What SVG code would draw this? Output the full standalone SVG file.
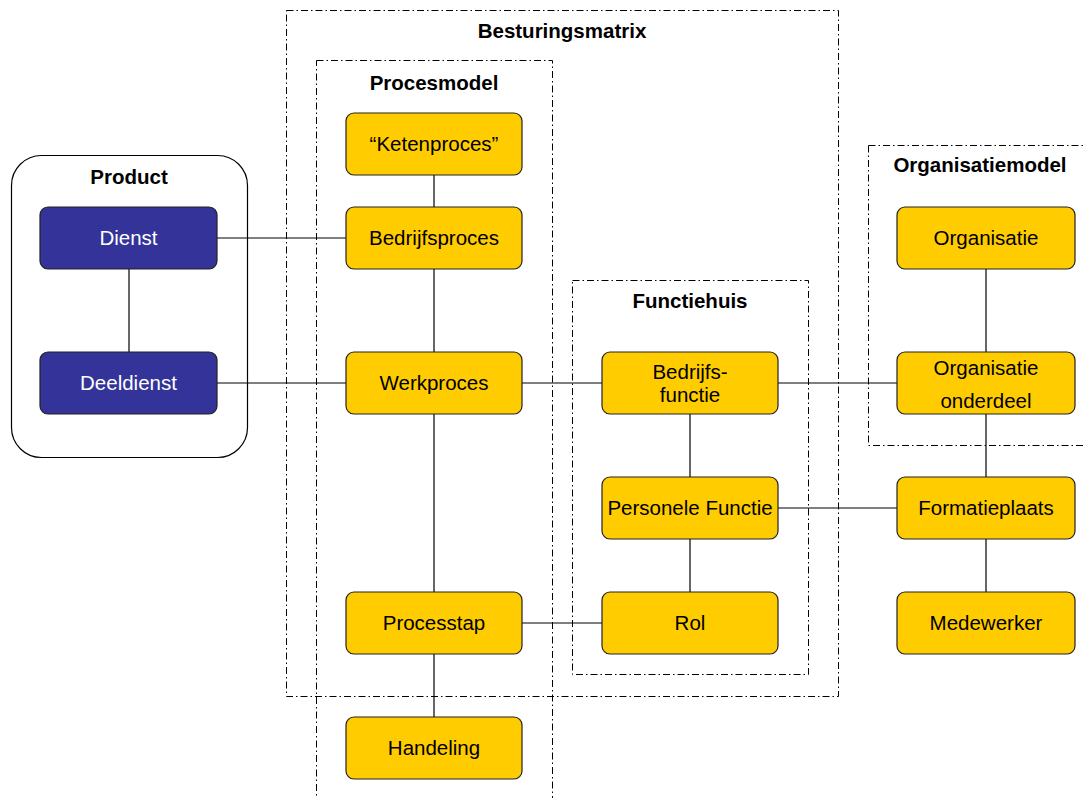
<svg xmlns="http://www.w3.org/2000/svg" width="1085" height="798" viewBox="0 0 1085 798">
<style>
.grp{fill:none;stroke:#000;stroke-width:1;stroke-dasharray:7 3 1.5 3}
.title{font-family:"Liberation Sans",Arial,sans-serif;font-size:20.5px;font-weight:bold;fill:#000;text-anchor:middle}
.y rect{fill:#FFCC00;stroke:#222;stroke-width:1.2}
.b rect{fill:#333399;stroke:#222;stroke-width:1.2}
.y text,.b text{font-family:"Liberation Sans",Arial,sans-serif;font-size:20.5px;text-anchor:middle}
.y text{fill:#000}
.b text{fill:#fff}
.c line{stroke:#000;stroke-width:1.2}
</style>
<rect width="1085" height="798" fill="#fff"/>
<g id="containers">
<rect class="grp" x="286.5" y="10.5" width="552" height="686"/>
<text class="title" x="562" y="38">Besturingsmatrix</text>
<rect class="grp" x="316.5" y="60.5" width="236" height="760"/>
<text class="title" x="434" y="90">Procesmodel</text>
<rect class="grp" x="572.5" y="280.5" width="236" height="394"/>
<text class="title" x="690" y="308">Functiehuis</text>
<rect class="grp" x="868.5" y="145.5" width="240" height="300"/>
<text class="title" x="980" y="172">Organisatiemodel</text>
<rect x="11.5" y="155.5" width="236" height="302" rx="30" fill="none" stroke="#000" stroke-width="1.2"/>
<text class="title" x="129" y="184">Product</text>
</g>
<g id="connectors" class="c">
<line x1="129" y1="269" x2="129" y2="352"/>
<line x1="217" y1="238" x2="346" y2="238"/>
<line x1="217" y1="383" x2="346" y2="383"/>
<line x1="434" y1="175" x2="434" y2="207"/>
<line x1="434" y1="269" x2="434" y2="352"/>
<line x1="434" y1="414" x2="434" y2="592"/>
<line x1="434" y1="654" x2="434" y2="717"/>
<line x1="522" y1="383" x2="602" y2="383"/>
<line x1="778" y1="383" x2="897" y2="383"/>
<line x1="690" y1="414" x2="690" y2="477"/>
<line x1="690" y1="539" x2="690" y2="592"/>
<line x1="522" y1="623" x2="602" y2="623"/>
<line x1="986" y1="269" x2="986" y2="352"/>
<line x1="986" y1="414" x2="986" y2="477"/>
<line x1="986" y1="539" x2="986" y2="592"/>
<line x1="778" y1="508" x2="897" y2="508"/>
</g>
<g id="dienst" class="b"><rect x="40" y="207" width="177" height="62" rx="8"/><text x="128.5" y="245">Dienst</text></g>
<g id="deeldienst" class="b"><rect x="40" y="352" width="177" height="62" rx="8"/><text x="128.5" y="390">Deeldienst</text></g>
<g id="ketenproces" class="y"><rect x="346" y="113" width="176" height="62" rx="8"/><text x="434" y="151">“Ketenproces”</text></g>
<g id="bedrijfsproces" class="y"><rect x="346" y="207" width="176" height="62" rx="8"/><text x="434" y="245">Bedrijfsproces</text></g>
<g id="werkproces" class="y"><rect x="346" y="352" width="176" height="62" rx="8"/><text x="434" y="390">Werkproces</text></g>
<g id="processtap" class="y"><rect x="346" y="592" width="176" height="62" rx="8"/><text x="434" y="630">Processtap</text></g>
<g id="handeling" class="y"><rect x="346" y="717" width="176" height="62" rx="8"/><text x="434" y="755">Handeling</text></g>
<g id="bedrijfsfunctie" class="y"><rect x="602" y="352" width="176" height="62" rx="8"/><text x="690" y="379">Bedrijfs-</text><text x="690" y="402">functie</text></g>
<g id="personele-functie" class="y"><rect x="602" y="477" width="176" height="62" rx="8"/><text x="690" y="515">Personele Functie</text></g>
<g id="rol" class="y"><rect x="602" y="592" width="176" height="62" rx="8"/><text x="690" y="630">Rol</text></g>
<g id="organisatie" class="y"><rect x="897" y="207" width="178" height="62" rx="8"/><text x="986" y="245">Organisatie</text></g>
<g id="organisatie-onderdeel" class="y"><rect x="897" y="352" width="178" height="62" rx="8"/><text x="986" y="375">Organisatie</text><text x="986" y="408">onderdeel</text></g>
<g id="formatieplaats" class="y"><rect x="897" y="477" width="178" height="62" rx="8"/><text x="986" y="515">Formatieplaats</text></g>
<g id="medewerker" class="y"><rect x="897" y="592" width="178" height="62" rx="8"/><text x="986" y="630">Medewerker</text></g>
</svg>
